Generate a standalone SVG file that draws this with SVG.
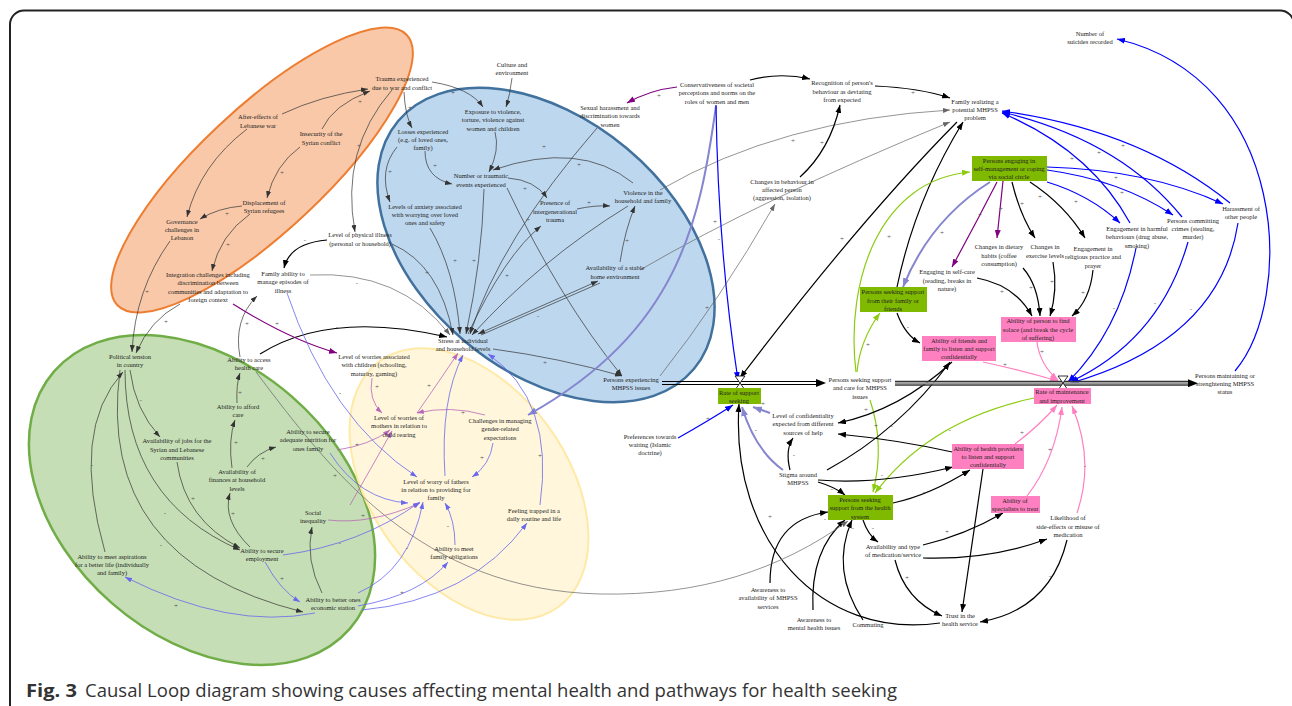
<svg xmlns="http://www.w3.org/2000/svg" width="1292" height="706" viewBox="0 0 1292 706">
<style>
.t{font-family:"Liberation Serif","Times New Roman",serif;font-size:6.5px;fill:#222;text-anchor:middle}
.sg{font-family:"Liberation Serif",serif;font-size:7px;fill:#555;text-anchor:middle}
.k{fill:none;stroke:#000;stroke-width:1.2;marker-end:url(#ak)}
.d{fill:none;stroke:#333;stroke-width:0.7;marker-end:url(#ad)}
.gy{fill:none;stroke:#666;stroke-width:0.7;marker-end:url(#agy)}
.b{fill:none;stroke:#0000ff;stroke-width:1.2;marker-end:url(#ab)}
.bl{fill:none;stroke:#6868ee;stroke-width:0.8;marker-end:url(#abl)}
.lv{fill:none;stroke:#8585d0;stroke-width:2;marker-end:url(#alv)}
.p{fill:none;stroke:#800080;stroke-width:1.2;marker-end:url(#ap)}
.m{fill:none;stroke:#b868b8;stroke-width:0.8;marker-end:url(#am)}
.pk{fill:none;stroke:#ff80c0;stroke-width:1.2;marker-end:url(#apk)}
.g{fill:none;stroke:#8ccc10;stroke-width:1.2;marker-end:url(#ag)}
.gb{fill:#7fba00}
.pb{fill:#ff80c0}
.cap{font-family:"Open Sans","Noto Sans",sans-serif;font-size:18.5px;fill:#333}
</style>
<defs>
<marker id="ak" markerUnits="userSpaceOnUse" markerWidth="8" markerHeight="6" refX="8" refY="3" orient="auto"><path d="M0,0L8,3L0,6z" fill="#000"/></marker>
<marker id="ad" markerUnits="userSpaceOnUse" markerWidth="7" markerHeight="5" refX="7" refY="2.5" orient="auto"><path d="M0,0L7,2.5L0,5z" fill="#333"/></marker>
<marker id="ads" markerUnits="userSpaceOnUse" markerWidth="7" markerHeight="5" refX="0" refY="2.5" orient="auto"><path d="M7,0L0,2.5L7,5z" fill="#333"/></marker>
<marker id="agy" markerUnits="userSpaceOnUse" markerWidth="7" markerHeight="5" refX="7" refY="2.5" orient="auto"><path d="M0,0L7,2.5L0,5z" fill="#666"/></marker>
<marker id="ab" markerUnits="userSpaceOnUse" markerWidth="8" markerHeight="6" refX="8" refY="3" orient="auto"><path d="M0,0L8,3L0,6z" fill="#0000ff"/></marker>
<marker id="abl" markerUnits="userSpaceOnUse" markerWidth="7" markerHeight="5" refX="7" refY="2.5" orient="auto"><path d="M0,0L7,2.5L0,5z" fill="#6868ee"/></marker>
<marker id="alv" markerUnits="userSpaceOnUse" markerWidth="9" markerHeight="7" refX="9" refY="3.5" orient="auto"><path d="M0,0L9,3.5L0,7z" fill="#8585d0"/></marker>
<marker id="ap" markerUnits="userSpaceOnUse" markerWidth="8" markerHeight="6" refX="8" refY="3" orient="auto"><path d="M0,0L8,3L0,6z" fill="#800080"/></marker>
<marker id="am" markerUnits="userSpaceOnUse" markerWidth="7" markerHeight="5" refX="7" refY="2.5" orient="auto"><path d="M0,0L7,2.5L0,5z" fill="#b868b8"/></marker>
<marker id="apk" markerUnits="userSpaceOnUse" markerWidth="8" markerHeight="6" refX="8" refY="3" orient="auto"><path d="M0,0L8,3L0,6z" fill="#ff80c0"/></marker>
<marker id="ag" markerUnits="userSpaceOnUse" markerWidth="8" markerHeight="6" refX="8" refY="3" orient="auto"><path d="M0,0L8,3L0,6z" fill="#8ccc10"/></marker>
<marker id="aflow" markerUnits="userSpaceOnUse" markerWidth="10" markerHeight="8" refX="10" refY="4" orient="auto"><path d="M0,0L10,4L0,8z" fill="#000"/></marker>
</defs>
<rect x="0" y="0" width="1292" height="706" fill="#fff"/>
<rect x="10" y="10.5" width="1284" height="720" rx="14" fill="none" stroke="#222" stroke-width="2"/>

<g id="regions">
<ellipse cx="262" cy="170" rx="198" ry="62" transform="rotate(-43 262 170)" fill="#f8c8a8" stroke="#ed7d31" stroke-width="2"/>
<ellipse cx="546" cy="245" rx="193" ry="126" transform="rotate(40 546 245)" fill="#bdd7ee" stroke="#41719c" stroke-width="2.5"/>
<ellipse cx="202" cy="500" rx="196" ry="137" transform="rotate(41 202 500)" fill="#c5deb5" stroke="#70ad47" stroke-width="2.5"/>
<ellipse cx="469" cy="484" rx="152" ry="98" transform="rotate(54 469 484)" fill="#fff4d6" fill-opacity="0.85" stroke="#ffe9a6" stroke-width="2"/>
</g>

<g id="connectors">
<path class="d" d="M282,114 Q320,96 368,89"/>
<path class="d" d="M322,129 Q333,105 370,91"/>
<path class="d" d="M300,147 Q275,165 267,198"/>
<path class="d" d="M247,129 Q200,165 187,217"/>
<path class="d" d="M242,206 Q218,208 200,219"/>
<path class="d" d="M250,214 Q220,235 212,271"/>
<path class="d" d="M170,241 Q135,290 132,352"/>
<path class="d" d="M180,304 Q150,320 136,353"/>
<path class="d" d="M404,92 Q405,115 412,128"/>
<path class="d" d="M432,82 Q470,88 483,107"/>
<path class="d" d="M392,90 Q340,150 355,232"/>
<path class="d" d="M512,78 Q510,95 506,107"/>
<path class="d" d="M495,132 Q500,150 489,172"/>
<path class="d" d="M425,151 Q425,178 452,184"/>
<path class="d" d="M397,147 Q378,170 390,202"/>
<path class="d" d="M633,183 Q580,140 493,170"/>
<path class="d" d="M508,178 Q535,180 547,198"/>
<path class="d" d="M577,209 Q595,205 610,206"/>
<path class="d" d="M620,262 Q625,230 635,206"/>
<path class="d" d="M392,244 Q440,265 453,335"/>
<path class="d" d="M430,228 Q455,270 460,334"/>
<path class="d" d="M484,189 Q482,260 466,334"/>
<path class="d" d="M597,128 Q500,240 470,334"/>
<path class="d" d="M628,206 Q540,260 472,335"/>
<path class="d" d="M507,188 Q560,300 622,376"/>
<path class="d" d="M493,349 Q560,358 622,376"/>
<path class="d" d="M468,334 Q505,255 541,226"/>
<path d="M478,334 L598,281" fill="none" stroke="#333" stroke-width="0.7" marker-start="url(#ads)" marker-end="url(#ad)"/>
<path d="M481,335 L600,283" fill="none" stroke="#333" stroke-width="0.7"/>
<path class="gy" d="M660,190 Q780,120 950,110"/>
<path class="gy" d="M640,270 Q760,200 950,122"/>
<path class="gy" d="M660,376 Q720,300 775,204"/>
<path class="lv" d="M716,106 C700,220 680,330 528,415"/>
<path class="b" d="M716,105 Q718,250 738,380"/>
<path class="p" d="M677,87 Q650,90 627,103"/>
<path class="k" d="M750,80 Q780,72 810,79"/>
<path class="k" d="M800,177 Q830,150 840,105"/>
<path class="k" d="M875,86 Q920,88 950,98"/>
<path class="k" d="M957,122 Q860,220 740,378"/>
<path class="k" d="M897,287 Q915,200 963,122"/>
<path class="lv" d="M990,182 Q930,220 903,287"/>
<path class="p" d="M997,182 Q975,225 952,267"/>
<path class="p" d="M1003,181 Q1000,210 997,238"/>
<path class="k" d="M1012,182 Q1020,215 1035,238"/>
<path class="k" d="M1030,182 Q1065,205 1085,238"/>
<path class="b" d="M1047,182 Q1090,195 1120,223"/>
<path class="b" d="M1047,170 Q1120,180 1173,215"/>
<path class="b" d="M1047,167 Q1150,170 1223,204"/>
<path class="b" d="M1130,223 Q1090,150 1002,113"/>
<path class="b" d="M1182,217 Q1120,140 1002,112"/>
<path class="b" d="M1230,203 Q1140,130 1002,111"/>
<path class="b" d="M1136,248 Q1120,330 1068,382"/>
<path class="b" d="M1188,242 Q1160,340 1070,382"/>
<path class="b" d="M1238,223 Q1220,340 1071,383"/>
<path class="b" d="M1235,371 C1295,300 1290,80 1117,39"/>
<path class="k" d="M977,278 Q1015,285 1032,316"/>
<path class="k" d="M1023,268 Q1038,285 1040,316"/>
<path class="k" d="M1053,262 Q1058,290 1050,316"/>
<path class="k" d="M1093,270 Q1090,300 1072,316"/>
<path class="g" d="M857,372 Q860,340 880,313"/>
<path class="g" d="M856,372 C845,280 880,180 970,172"/>
<path class="g" d="M870,400 Q885,445 873,492"/>
<path class="g" d="M1034,398 Q930,420 875,493"/>
<path class="pk" d="M983,362 Q1020,370 1058,381"/>
<path class="pk" d="M1037,342 Q1040,365 1058,380"/>
<path class="pk" d="M1015,444 Q1040,425 1057,405"/>
<path class="pk" d="M1027,496 Q1055,460 1062,407"/>
<path class="pk" d="M1077,513 Q1095,460 1072,406"/>
<path class="b" d="M678,438 Q710,420 733,405"/>
<path class="lv" d="M770,413 L753,407"/>
<path class="lv" d="M783,470 Q755,450 742,407"/>
<path class="k" d="M897,313 Q905,335 920,343"/>
<path class="k" d="M952,362 Q900,410 838,423"/>
<path class="k" d="M827,470 Q900,430 950,362"/>
<path class="k" d="M957,453 Q900,440 838,434"/>
<path class="k" d="M790,470 Q785,450 793,438"/>
<path class="k" d="M818,482 Q835,487 845,495"/>
<path class="k" d="M818,480 Q880,485 953,467"/>
<path class="k" d="M893,503 Q930,495 970,470"/>
<path class="k" d="M863,520 Q868,535 878,542"/>
<path class="k" d="M923,545 Q965,535 1003,513"/>
<path class="k" d="M923,558 Q990,560 1047,539"/>
<path class="k" d="M895,560 Q905,600 942,616"/>
<path class="k" d="M1067,540 Q1050,610 980,622"/>
<path class="k" d="M983,469 L962,612"/>
<path class="k" d="M940,623 C820,640 730,540 739,404"/>
<path class="k" d="M770,583 Q770,520 828,512"/>
<path class="k" d="M813,610 Q810,550 845,520"/>
<path class="k" d="M863,620 Q830,570 852,520"/>
<path class="gy" d="M256,372 C330,470 420,590 600,594 C700,596 780,570 848,521"/>
<path class="d" d="M130,370 Q135,410 160,437"/>
<path class="d" d="M125,370 Q125,500 240,550"/>
<path class="d" d="M120,370 Q95,560 303,612"/>
<path class="d" d="M105,552 Q70,430 123,372"/>
<path class="d" d="M177,462 Q185,520 240,548"/>
<path class="d" d="M250,547 Q222,520 230,493"/>
<path class="d" d="M232,468 Q228,440 235,420"/>
<path class="d" d="M247,467 Q258,452 276,447"/>
<path class="d" d="M237,403 Q236,385 240,373"/>
<path class="d" d="M240,357 Q233,320 257,296"/>
<path class="d" d="M322,593 Q305,560 312,527"/>
<path class="bl" d="M265,562 Q280,590 300,602"/>
<path class="bl" d="M315,613 Q230,630 125,577"/>
<path class="k" d="M260,354 Q330,310 447,337"/>
<path class="gy" d="M310,275 Q400,270 450,335"/>
<path class="k" d="M327,240 Q290,243 284,268"/>
<path class="p" d="M233,304 Q290,340 337,353"/>
<path class="m" d="M372,378 Q368,400 382,413"/>
<path class="m" d="M417,413 Q440,380 458,353"/>
<path class="m" d="M485,415 Q450,405 417,413"/>
<path class="m" d="M337,450 Q370,445 390,430"/>
<path class="m" d="M350,505 Q370,470 392,431"/>
<path class="m" d="M328,520 Q370,525 420,503"/>
<path class="bl" d="M283,555 Q360,545 420,502"/>
<path class="bl" d="M330,453 Q360,500 408,503"/>
<path class="bl" d="M445,476 Q440,400 463,355"/>
<path class="bl" d="M493,443 Q490,465 472,477"/>
<path class="bl" d="M540,505 Q555,400 488,354"/>
<path class="bl" d="M455,545 Q455,520 445,503"/>
<path class="bl" d="M358,593 Q410,570 423,502"/>
<path class="bl" d="M358,606 Q420,595 448,562"/>
<path class="bl" d="M362,610 Q470,600 527,523"/>
<path class="bl" d="M287,293 Q330,420 417,477"/>
<path d="M662,381.5 H818 M662,384.5 H818" stroke="#000" stroke-width="1" fill="none"/>
<path d="M662,383 H826" stroke="none" fill="none" marker-end="url(#aflow)"/>
<path d="M895,381.5 H1190 M895,385 H1190" stroke="#333" stroke-width="1.3" fill="none"/>
<path d="M895,383.2 H1190" stroke="#999" stroke-width="2" fill="none"/>
<path d="M1180,383.2 H1198" stroke="none" fill="none" marker-end="url(#aflow)"/>
<path d="M735,376 H745 L735,390 H745 Z" fill="#fff" stroke="#000" stroke-width="0.8"/>
<path d="M1058,376 H1068 L1058,390 H1068 Z" fill="#fff" stroke="#000" stroke-width="0.8"/>
</g>

<g id="signs">
<text class="sg" x="360" y="104">+</text><text class="sg" x="282" y="175">+</text><text class="sg" x="227" y="216">+</text>
<text class="sg" x="228" y="247">+</text><text class="sg" x="147" y="294">+</text><text class="sg" x="166" y="324">+</text>
<text class="sg" x="410" y="110">+</text><text class="sg" x="453" y="95">+</text><text class="sg" x="359" y="148">+</text>
<text class="sg" x="435" y="168">+</text><text class="sg" x="390" y="174">+</text><text class="sg" x="544" y="149">+</text>
<text class="sg" x="579" y="167">+</text><text class="sg" x="525" y="191">+</text><text class="sg" x="589" y="205">+</text>
<text class="sg" x="627" y="243">+</text><text class="sg" x="528" y="222">+</text><text class="sg" x="427" y="275">+</text>
<text class="sg" x="455" y="263">+</text><text class="sg" x="474" y="263">+</text><text class="sg" x="507" y="278">+</text>
<text class="sg" x="545" y="365">+</text><text class="sg" x="538" y="318">-</text><text class="sg" x="793" y="143">+</text>
<text class="sg" x="715" y="224">+</text><text class="sg" x="707" y="310">+</text><text class="sg" x="719" y="241">-</text>
<text class="sg" x="659" y="98">+</text><text class="sg" x="822" y="145">+</text><text class="sg" x="913" y="95">+</text>
<text class="sg" x="842" y="241">+</text><text class="sg" x="942" y="235">+</text><text class="sg" x="980" y="217">+</text>
<text class="sg" x="1001" y="211">+</text><text class="sg" x="1022" y="206">+</text><text class="sg" x="1040" y="199">+</text>
<text class="sg" x="1076" y="204">+</text><text class="sg" x="1122" y="195">+</text><text class="sg" x="1116" y="180">+</text>
<text class="sg" x="1072" y="161">+</text><text class="sg" x="1099" y="155">+</text><text class="sg" x="1123" y="148">+</text>
<text class="sg" x="1114" y="310">-</text><text class="sg" x="1155" y="305">-</text><text class="sg" x="1191" y="311">-</text>
<text class="sg" x="1250" y="152">-</text><text class="sg" x="1002" y="294">+</text><text class="sg" x="1031" y="290">+</text>
<text class="sg" x="1052" y="284">+</text><text class="sg" x="1083" y="295">+</text><text class="sg" x="868" y="347">+</text>
<text class="sg" x="889" y="239">+</text><text class="sg" x="866" y="412">+</text><text class="sg" x="876" y="428">+</text>
<text class="sg" x="1005" y="367">+</text><text class="sg" x="1042" y="354">+</text><text class="sg" x="1022" y="435">+</text>
<text class="sg" x="1050" y="452">+</text><text class="sg" x="1085" y="468">-</text><text class="sg" x="708" y="421">+</text>
<text class="sg" x="763" y="406">+</text><text class="sg" x="756" y="432">-</text><text class="sg" x="908" y="329">-</text>
<text class="sg" x="892" y="428">-</text><text class="sg" x="950" y="432">-</text><text class="sg" x="794" y="457">-</text>
<text class="sg" x="832" y="491">-</text><text class="sg" x="882" y="477">-</text><text class="sg" x="924" y="494">-</text>
<text class="sg" x="873" y="530">-</text><text class="sg" x="947" y="534">+</text><text class="sg" x="990" y="555">-</text>
<text class="sg" x="907" y="580">+</text><text class="sg" x="1050" y="578">-</text><text class="sg" x="770" y="519">+</text>
<text class="sg" x="825" y="521">-</text><text class="sg" x="853" y="530">-</text><text class="sg" x="141" y="402">-</text>
<text class="sg" x="165" y="515">-</text><text class="sg" x="161" y="547">-</text><text class="sg" x="92" y="467">-</text>
<text class="sg" x="193" y="501">+</text><text class="sg" x="233" y="516">+</text><text class="sg" x="236" y="445">+</text>
<text class="sg" x="263" y="461">+</text><text class="sg" x="240" y="395">+</text><text class="sg" x="247" y="326">+</text>
<text class="sg" x="282" y="581">+</text><text class="sg" x="176" y="608">+</text><text class="sg" x="337" y="329">-</text>
<text class="sg" x="357" y="285">-</text><text class="sg" x="305" y="242">-</text><text class="sg" x="277" y="326">+</text>
<text class="sg" x="377" y="389">+</text><text class="sg" x="429" y="388">+</text><text class="sg" x="463" y="415">+</text>
<text class="sg" x="357" y="447">+</text><text class="sg" x="363" y="518">+</text><text class="sg" x="340" y="545">-</text>
<text class="sg" x="482" y="460">+</text><text class="sg" x="540" y="458">+</text><text class="sg" x="448" y="528">-</text>
<text class="sg" x="407" y="550">-</text><text class="sg" x="402" y="595">+</text><text class="sg" x="340" y="395">-</text>
<text class="sg" x="335" y="478">+</text>
</g>

<g id="n_after"><text class="t"><tspan x="258" y="119">After-effects of</tspan><tspan x="258" y="128">Lebanese war</tspan></text></g>
<g id="n_insecurity"><text class="t"><tspan x="321" y="136">Insecurity of the</tspan><tspan x="321" y="145">Syrian conflict</tspan></text></g>
<g id="n_trauma"><text class="t"><tspan x="402" y="81">Trauma experienced</tspan><tspan x="402" y="90">due to war and conflict</tspan></text></g>
<g id="n_displacement"><text class="t"><tspan x="264" y="205">Displacement of</tspan><tspan x="264" y="213">Syrian refugees</tspan></text></g>
<g id="n_governance"><text class="t"><tspan x="182" y="224">Governance</tspan><tspan x="182" y="232">challenges in</tspan><tspan x="182" y="240">Lebanon</tspan></text></g>
<g id="n_integration"><text class="t"><tspan x="208" y="277">Integration challenges including</tspan><tspan x="208" y="285">discrimination between</tspan><tspan x="208" y="294">communities and adaptation to</tspan><tspan x="208" y="302">foreign context</tspan></text></g>
<g id="n_political"><text class="t"><tspan x="130" y="359">Political tension</tspan><tspan x="130" y="367">in country</tspan></text></g>
<g id="n_access"><text class="t"><tspan x="249" y="362">Ability to access</tspan><tspan x="249" y="370">health care</tspan></text></g>
<g id="n_afford"><text class="t"><tspan x="238" y="409">Ability to afford</tspan><tspan x="238" y="417">care</tspan></text></g>
<g id="n_nutrition"><text class="t"><tspan x="308" y="434">Ability to secure</tspan><tspan x="308" y="442">adequate nutrition for</tspan><tspan x="308" y="451">ones family</tspan></text></g>
<g id="n_jobs"><text class="t"><tspan x="177" y="443">Availability of jobs for the</tspan><tspan x="177" y="452">Syrian and Lebanese</tspan><tspan x="177" y="460">communities</tspan></text></g>
<g id="n_finances"><text class="t"><tspan x="237" y="474">Availability of</tspan><tspan x="237" y="482">finances at household</tspan><tspan x="237" y="491">levels</tspan></text></g>
<g id="n_inequality"><text class="t"><tspan x="313" y="515">Social</tspan><tspan x="313" y="523">inequality</tspan></text></g>
<g id="n_employment"><text class="t"><tspan x="262" y="553">Ability to secure</tspan><tspan x="262" y="561">employment</tspan></text></g>
<g id="n_aspirations"><text class="t"><tspan x="112" y="559">Ability to meet aspirations</tspan><tspan x="112" y="567">for a better life (individually</tspan><tspan x="112" y="575">and family)</tspan></text></g>
<g id="n_better"><text class="t"><tspan x="333" y="602">Ability to better ones</tspan><tspan x="333" y="610">economic station</tspan></text></g>
<g id="n_culture"><text class="t"><tspan x="512" y="67">Culture and</tspan><tspan x="512" y="75">environment</tspan></text></g>
<g id="n_exposure"><text class="t"><tspan x="493" y="114">Exposure to violence,</tspan><tspan x="493" y="122">torture, violence against</tspan><tspan x="493" y="131">women and children</tspan></text></g>
<g id="n_sexual"><text class="t"><tspan x="610" y="110">Sexual harassment and</tspan><tspan x="610" y="118">discrimination towards</tspan><tspan x="610" y="127">women</tspan></text></g>
<g id="n_losses"><text class="t"><tspan x="423" y="134">Losses experienced</tspan><tspan x="423" y="142">(e.g. of loved ones,</tspan><tspan x="423" y="150">family)</tspan></text></g>
<g id="n_number"><text class="t"><tspan x="481" y="178">Number or traumatic</tspan><tspan x="481" y="187">events experienced</tspan></text></g>
<g id="n_presence"><text class="t"><tspan x="555" y="205">Presence of</tspan><tspan x="555" y="214">intergenerational</tspan><tspan x="555" y="222">trauma</tspan></text></g>
<g id="n_violence"><text class="t"><tspan x="643" y="195">Violence in the</tspan><tspan x="643" y="203">household and family</tspan></text></g>
<g id="n_anxiety"><text class="t"><tspan x="425" y="209">Levels of anxiety associated</tspan><tspan x="425" y="217">with worrying over loved</tspan><tspan x="425" y="225">ones and safety</tspan></text></g>
<g id="n_stable"><text class="t"><tspan x="615" y="270">Availability of a stable</tspan><tspan x="615" y="279">home environment</tspan></text></g>
<g id="n_stress"><text class="t"><tspan x="463" y="343">Stress at individual</tspan><tspan x="463" y="351">and household levels</tspan></text></g>
<g id="n_experiencing"><text class="t"><tspan x="631" y="382">Persons experiencing</tspan><tspan x="631" y="390">MHPSS issues</tspan></text></g>
<g id="n_physical"><text class="t"><tspan x="360" y="237">Level of physical illness</tspan><tspan x="360" y="246">(personal or household)</tspan></text></g>
<g id="n_famability"><text class="t"><tspan x="283" y="276">Family ability to</tspan><tspan x="283" y="284">manage episodes of</tspan><tspan x="283" y="293">illness</tspan></text></g>
<g id="n_worrychild"><text class="t"><tspan x="374" y="359">Level of worries associated</tspan><tspan x="374" y="367">with children (schooling,</tspan><tspan x="374" y="376">maturity, gaming)</tspan></text></g>
<g id="n_mothers"><text class="t"><tspan x="399" y="420">Level of worries of</tspan><tspan x="399" y="428">mothers in relation to</tspan><tspan x="399" y="437">child rearing</tspan></text></g>
<g id="n_gender"><text class="t"><tspan x="500" y="423">Challenges in managing</tspan><tspan x="500" y="431">gender-related</tspan><tspan x="500" y="440">expectations</tspan></text></g>
<g id="n_fathers"><text class="t"><tspan x="436" y="484">Level of worry of fathers</tspan><tspan x="436" y="492">in relation to providing for</tspan><tspan x="436" y="500">family</tspan></text></g>
<g id="n_trapped"><text class="t"><tspan x="534" y="513">Feeling trapped in a</tspan><tspan x="534" y="521">daily routine and life</tspan></text></g>
<g id="n_obligations"><text class="t"><tspan x="454" y="551">Ability to meet</tspan><tspan x="454" y="559">family obligations</tspan></text></g>
<g id="n_conservativeness"><text class="t"><tspan x="717" y="87">Conservativeness of societal</tspan><tspan x="717" y="95">perceptions and norms on the</tspan><tspan x="717" y="104">roles of women and men</tspan></text></g>
<g id="n_recognition"><text class="t"><tspan x="842" y="85">Recognition of person's</tspan><tspan x="842" y="94">behaviour as deviating</tspan><tspan x="842" y="102">from expected</tspan></text></g>
<g id="n_famrealizing"><text class="t"><tspan x="975" y="104">Family realizing a</tspan><tspan x="975" y="112">potential MHPSS</tspan><tspan x="975" y="120">problem</tspan></text></g>
<g id="n_changes"><text class="t"><tspan x="782" y="184">Changes in behaviour in</tspan><tspan x="782" y="192">affected person</tspan><tspan x="782" y="200">(aggression, isolation)</tspan></text></g>
<g id="n_suicides"><text class="t"><tspan x="1090" y="36">Number of</tspan><tspan x="1090" y="44">suicides recorded</tspan></text></g>
<g id="n_selfmgmt"><rect class="gb" x="972" y="156" width="75" height="25"/><text class="t"><tspan x="1009" y="163">Persons engaging in</tspan><tspan x="1009" y="171">self-management or coping</tspan><tspan x="1009" y="179">via social circle</tspan></text></g>
<g id="n_harassment"><text class="t"><tspan x="1241" y="211">Harassment of</tspan><tspan x="1241" y="219">other people</tspan></text></g>
<g id="n_crimes"><text class="t"><tspan x="1193" y="223">Persons committing</tspan><tspan x="1193" y="231">crimes (stealing,</tspan><tspan x="1193" y="239">murder)</tspan></text></g>
<g id="n_harmful"><text class="t"><tspan x="1137" y="231">Engagement in harmful</tspan><tspan x="1137" y="239">behaviours (drug abuse,</tspan><tspan x="1137" y="248">smoking)</tspan></text></g>
<g id="n_dietary"><text class="t"><tspan x="999" y="249">Changes in dietary</tspan><tspan x="999" y="258">habits (coffee</tspan><tspan x="999" y="266">consumption)</tspan></text></g>
<g id="n_exercise"><text class="t"><tspan x="1045" y="249">Changes in</tspan><tspan x="1045" y="258">exercise levels</tspan></text></g>
<g id="n_religious"><text class="t"><tspan x="1093" y="251">Engagement in</tspan><tspan x="1093" y="259">religious practice and</tspan><tspan x="1093" y="268">prayer</tspan></text></g>
<g id="n_selfcare"><text class="t"><tspan x="947" y="274">Engaging in self-care</tspan><tspan x="947" y="283">(reading, breaks in</tspan><tspan x="947" y="291">nature)</tspan></text></g>
<g id="n_famsupport"><rect class="gb" x="860" y="287" width="67" height="25"/><text class="t"><tspan x="893" y="294">Persons seeking support</tspan><tspan x="893" y="303">from their family or</tspan><tspan x="893" y="311">friends</tspan></text></g>
<g id="n_friends"><rect class="pb" x="922" y="336" width="74" height="25"/><text class="t"><tspan x="959" y="343">Ability of friends and</tspan><tspan x="959" y="351">family to listen and support</tspan><tspan x="959" y="359">confidentially</tspan></text></g>
<g id="n_solace"><rect class="pb" x="1001" y="317" width="75" height="25"/><text class="t"><tspan x="1038" y="323">Ability of person to find</tspan><tspan x="1038" y="332">solace (and break the cycle</tspan><tspan x="1038" y="340">of suffering)</tspan></text></g>
<g id="n_seekcare"><text class="t"><tspan x="860" y="382">Persons seeking support</tspan><tspan x="860" y="390">and care for MHPSS</tspan><tspan x="860" y="399">issues</tspan></text></g>
<g id="n_ratesupport"><rect class="gb" x="718" y="388" width="43" height="16"/><text class="t"><tspan x="739" y="395">Rate of support</tspan><tspan x="739" y="403">seeking</tspan></text></g>
<g id="n_confidentiality"><text class="t"><tspan x="803" y="418">Level of confidentiality</tspan><tspan x="803" y="426">expected from different</tspan><tspan x="803" y="435">sources of help</tspan></text></g>
<g id="n_preferences"><text class="t"><tspan x="650" y="439">Preferences towards</tspan><tspan x="650" y="447">waiting (Islamic</tspan><tspan x="650" y="455">doctrine)</tspan></text></g>
<g id="n_ratemaint"><rect class="pb" x="1034" y="388" width="57" height="16"/><text class="t"><tspan x="1062" y="394">Rate of maintenance</tspan><tspan x="1062" y="403">and improvement</tspan></text></g>
<g id="n_maintaining"><text class="t"><tspan x="1225" y="378">Persons maintaining or</tspan><tspan x="1225" y="386">strenghtening MHPSS</tspan><tspan x="1225" y="394">status</tspan></text></g>
<g id="n_healthprov"><rect class="pb" x="952" y="444" width="72" height="25"/><text class="t"><tspan x="988" y="451">Ability of health providers</tspan><tspan x="988" y="459">to listen and support</tspan><tspan x="988" y="467">confidentially</tspan></text></g>
<g id="n_specialists"><rect class="pb" x="991" y="496" width="49" height="17"/><text class="t"><tspan x="1015" y="503">Ability of</tspan><tspan x="1015" y="511">specialists to treat</tspan></text></g>
<g id="n_likelihood"><text class="t"><tspan x="1068" y="520">Likelihood of</tspan><tspan x="1068" y="529">side-effects or misuse of</tspan><tspan x="1068" y="537">medication</tspan></text></g>
<g id="n_stigma"><text class="t"><tspan x="798" y="477">Stigma around</tspan><tspan x="798" y="485">MHPSS</tspan></text></g>
<g id="n_healthsys"><rect class="gb" x="828" y="495" width="65" height="25"/><text class="t"><tspan x="860" y="502">Persons seeking</tspan><tspan x="860" y="510">support from the health</tspan><tspan x="860" y="519">system</tspan></text></g>
<g id="n_availmed"><text class="t"><tspan x="893" y="549">Availability and type</tspan><tspan x="893" y="557">of medication/service</tspan></text></g>
<g id="n_trust"><text class="t"><tspan x="960" y="618">Trust in the</tspan><tspan x="960" y="626">health service</tspan></text></g>
<g id="n_awareavail"><text class="t"><tspan x="768" y="592">Awareness to</tspan><tspan x="768" y="600">availability of MHPSS</tspan><tspan x="768" y="609">services</tspan></text></g>
<g id="n_awarement"><text class="t"><tspan x="814" y="622">Awareness to</tspan><tspan x="814" y="630">mental health issues</tspan></text></g>
<g id="n_commuting"><text class="t"><tspan x="868" y="627">Commuting</tspan></text></g>

<g id="caption">
<text class="cap" x="26" y="697" font-weight="bold" textLength="51" lengthAdjust="spacingAndGlyphs">Fig. 3</text>
<text class="cap" x="85" y="697" textLength="812" lengthAdjust="spacing">Causal Loop diagram showing causes affecting mental health and pathways for health seeking</text>
</g>
</svg>
